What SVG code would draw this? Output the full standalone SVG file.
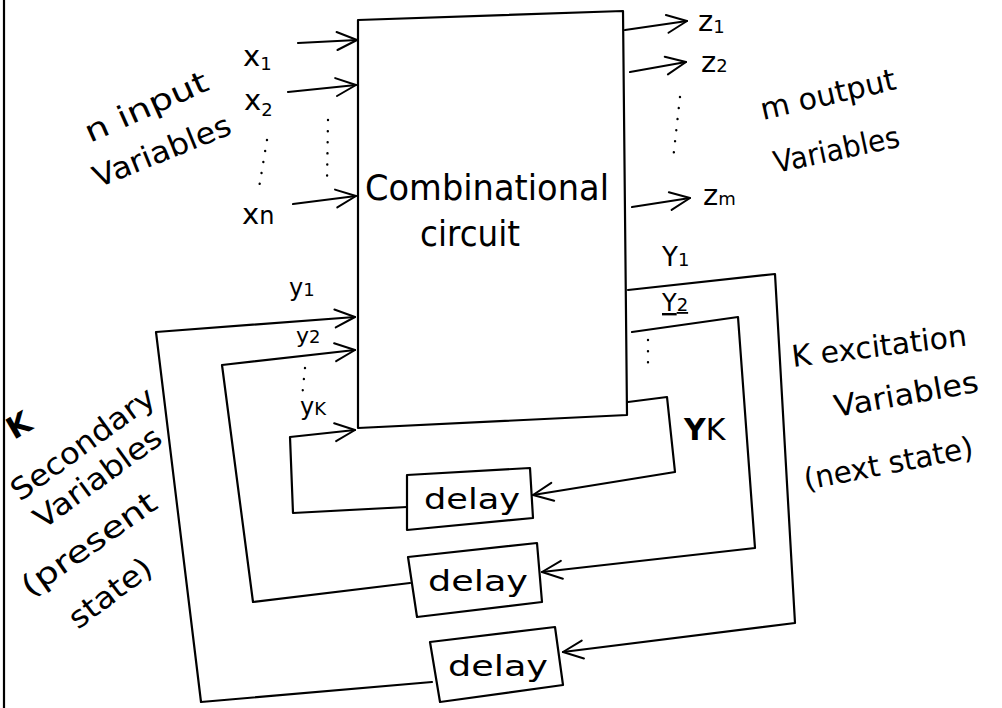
<svg xmlns="http://www.w3.org/2000/svg" width="1002" height="708" viewBox="0 0 1002 708">
<defs>
<marker id="arr" viewBox="-22 -12 26 24" refX="0" refY="0" markerWidth="26" markerHeight="24" orient="auto" markerUnits="userSpaceOnUse">
<path d="M-20,-9 L0,0 L-20,9" fill="none" stroke="#000" stroke-width="2" stroke-linecap="round" stroke-linejoin="round"/>
</marker>
</defs>
<style>
.ln{fill:none;stroke:#000;stroke-width:2.2;stroke-linecap:round;stroke-linejoin:round}
.ar{marker-end:url(#arr)}
.dot{fill:none;stroke:#000;stroke-width:2.4;stroke-linecap:round;stroke-dasharray:0.1 11}
.box{fill:none;stroke:#000;stroke-width:2.2;stroke-linejoin:round}
.t{font-family:"DejaVu Sans","Liberation Sans",sans-serif;fill:#000}
.lab{font-size:29px}
.var{font-size:30px}
.sub{font-size:18px}
.big{font-size:36px}
</style>
<rect width="1002" height="708" fill="#fff"/>
<line x1="4" y1="0" x2="4" y2="708" class="ln"/>

<g id="connectors">
<path class="ln ar" d="M298,43 L357,40"/>
<path class="ln ar" d="M288,92 L356,85"/>
<path class="ln ar" d="M293,204 L356,196"/>
<path class="ln ar" d="M625,30 L687,21"/>
<path class="ln ar" d="M630,72 L686,62"/>
<path class="ln ar" d="M632,207 L690,198"/>
<path class="ln ar" d="M628,290 L775,274 L795,623 L563,652"/>
<path class="ln ar" d="M432,682 L201,702 L156,332 L355,317"/>
<path class="ln ar" d="M632,332 L738,317 L755,548 L542,572"/>
<path class="ln ar" d="M410,583 L253,602 L222,365 L355,350"/>
<path class="ln ar" d="M628,402 L667,397 L675,472 L533,495"/>
<path class="ln ar" d="M407,507 L293,513 L290,437 L355,430"/>
<path class="dot" d="M267,140 L258,194"/>
<path class="dot" d="M328,120 L327,182"/>
<path class="dot" d="M680,97 L673,160"/>
<path class="dot" d="M305,368 L302,398"/>
<path class="dot" d="M648,340 L648,368"/>
</g>

<g id="combinational-circuit">
<path class="box" d="M358,20 L623,11 L627,415 L358,428 Z"/>
<text class="t big" x="365" y="200" textLength="244" lengthAdjust="spacingAndGlyphs">Combinational</text>
<text class="t big" x="420" y="246" textLength="100" lengthAdjust="spacingAndGlyphs">circuit</text>
</g>

<g id="delay-1">
<path class="box" d="M407,475 L530,468 L533,518 L407,530 Z"/>
<text class="t lab" x="424" y="509" textLength="96" lengthAdjust="spacingAndGlyphs">delay</text>
</g>
<g id="delay-2">
<path class="box" d="M408,557 L537,543 L542,602 L417,617 Z"/>
<text class="t lab" x="428" y="591" textLength="100" lengthAdjust="spacingAndGlyphs">delay</text>
</g>
<g id="delay-3">
<path class="box" d="M430,642 L555,627 L563,685 L440,702 Z"/>
<text class="t lab" x="448" y="676" textLength="100" lengthAdjust="spacingAndGlyphs">delay</text>
</g>

<g id="labels">
<text class="t lab" x="243" y="66">x<tspan class="sub" dy="4">1</tspan></text>
<text class="t lab" x="244" y="110">x<tspan class="sub" dy="6">2</tspan></text>
<text class="t lab" x="242" y="224">x<tspan font-size="24px">n</tspan></text>
<text class="t lab" x="698" y="31">z<tspan class="sub" dy="2">1</tspan></text>
<text class="t lab" x="701" y="72">z<tspan class="sub">2</tspan></text>
<text class="t lab" x="703" y="205">z<tspan class="sub">m</tspan></text>
<text class="t" font-size="24px" x="289" y="296">y<tspan class="sub">1</tspan></text>
<text class="t" font-size="22px" x="296" y="343">y<tspan class="sub">2</tspan></text>
<text class="t" font-size="24px" x="300" y="415">y<tspan class="sub">K</tspan></text>
<text class="t" font-size="26px" x="662" y="266">Y<tspan class="sub">1</tspan></text>
<text class="t" font-size="24px" x="662" y="311" text-decoration="underline">Y<tspan class="sub">2</tspan></text>
<text class="t" font-size="30px" x="684" y="440"><tspan font-weight="bold">Y</tspan>K</text>
<text class="t var" transform="translate(90,143) rotate(-24)" textLength="132" lengthAdjust="spacingAndGlyphs">n input</text>
<text class="t var" transform="translate(98,188) rotate(-22)" textLength="146" lengthAdjust="spacingAndGlyphs">Variables</text>
<text class="t var" transform="translate(763,120) rotate(-13)" textLength="138" lengthAdjust="spacingAndGlyphs">m output</text>
<text class="t var" transform="translate(776,173) rotate(-12)" textLength="128" lengthAdjust="spacingAndGlyphs">Variables</text>
<text class="t var" transform="translate(793,367) rotate(-7)" textLength="176" lengthAdjust="spacingAndGlyphs">K excitation</text>
<text class="t var" transform="translate(836,417) rotate(-10)" textLength="146" lengthAdjust="spacingAndGlyphs">Variables</text>
<text class="t var" transform="translate(806,490) rotate(-11)" textLength="172" lengthAdjust="spacingAndGlyphs">(next state)</text>
<text class="t var" font-weight="bold" transform="translate(14,440) rotate(-30)">K</text>
<text class="t var" transform="translate(20,502) rotate(-36)" textLength="170" lengthAdjust="spacingAndGlyphs">Secondary</text>
<text class="t var" transform="translate(43,530) rotate(-36)" textLength="150" lengthAdjust="spacingAndGlyphs">Variables</text>
<text class="t var" transform="translate(30,598) rotate(-35)" textLength="158" lengthAdjust="spacingAndGlyphs">(present</text>
<text class="t var" transform="translate(78,630) rotate(-37)" textLength="96" lengthAdjust="spacingAndGlyphs">state)</text>
</g>
</svg>
